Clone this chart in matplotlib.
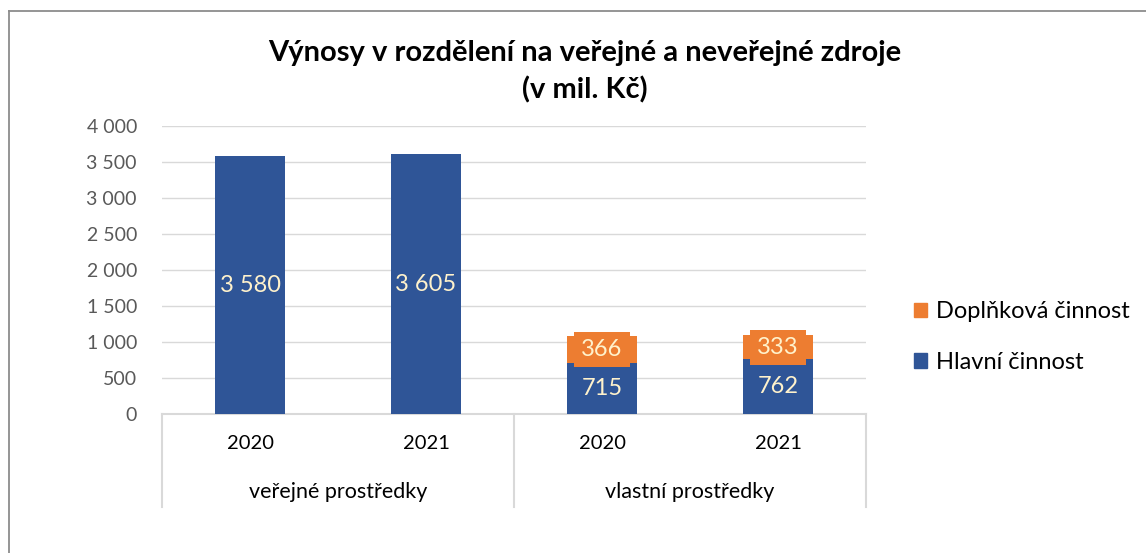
import matplotlib
matplotlib.use("Agg")
import matplotlib.pyplot as plt
from matplotlib.patches import Rectangle
from matplotlib.lines import Line2D

plt.rcParams['font.family'] = ['Lato', 'DejaVu Sans']

# ---- data ----
years = ["2020", "2021", "2020", "2021"]
groups = ["veřejné prostředky", "vlastní prostředky"]
hlavni = [3580, 3605, 715, 762]
doplnkova = [0, 0, 366, 333]
yticks = [0, 500, 1000, 1500, 2000, 2500, 3000, 3500, 4000]
ytick_labels = ["0", "500", "1 000", "1 500", "2 000", "2 500", "3 000", "3 500", "4 000"]
title = "Výnosy v rozdělení na veřejné a neveřejné zdroje\n(v mil. Kč)"

BLUE = "#2F5597"
ORANGE = "#ED7D31"
LABEL = "#FFF2CC"
GRID = "#D9D9D9"

W, H = 1146, 553
fig = plt.figure(figsize=(W / 100, H / 100), dpi=100)
fig.patch.set_facecolor("white")

# outer chart border (left and top visible)
fig.add_artist(Line2D([8.5 / W, 8.5 / W], [0, 1 - 10.5 / H], transform=fig.transFigure, color="#8C8C8C", lw=1.3))
fig.add_artist(Line2D([8.5 / W, 1], [1 - 10.5 / H, 1 - 10.5 / H], transform=fig.transFigure, color="#8C8C8C", lw=1.3))

ax = fig.add_axes([162 / W, (H - 414) / H, (866 - 162) / W, (414 - 126) / H])
x = list(range(len(years)))
bw = 0.4
ax.bar(x, hlavni, width=bw, color=BLUE, zorder=3, label="Hlavní činnost")
ax.bar(x, doplnkova, width=bw, bottom=hlavni, color=ORANGE, zorder=3, label="Doplňková činnost")

def fmt(v):
    return f"{v:,}".replace(",", " ")

for i in x:
    ax.text(i, hlavni[i] / 2, fmt(hlavni[i]), ha="center", va="center", color=LABEL, fontsize=17, zorder=5)
    if doplnkova[i] > 0:
        ax.text(i, hlavni[i] + doplnkova[i] / 2, fmt(doplnkova[i]), ha="center", va="center",
                color=LABEL, fontsize=17, zorder=5,
                bbox=dict(boxstyle="square,pad=0.3", facecolor=ORANGE, edgecolor="none"))

ax.set_xlim(-0.5, len(years) - 0.5)
ax.set_ylim(0, 4000)
ax.set_yticks(yticks)
ax.set_yticklabels(ytick_labels, fontsize=14, color="#595959")
ax.tick_params(axis="y", length=0, pad=18)
ax.grid(axis="y", color=GRID, lw=1, zorder=0)
for s in ["top", "right", "left"]:
    ax.spines[s].set_visible(False)
ax.spines["bottom"].set_color(GRID)
ax.spines["bottom"].set_linewidth(1.5)
ax.set_xticks(x)
ax.set_xticklabels(years, fontsize=14.5, color="black")
ax.tick_params(axis="x", length=0, pad=15)

tr = ax.get_xaxis_transform()
h_ax = 414 - 126
for g, gname in enumerate(groups):
    ax.text(g * 2 + 0.5, -(492 - 414) / h_ax, gname, transform=tr, ha="center", va="center",
            fontsize=15.5, color="black")
for xs in [-0.5, 1.5, 3.5]:
    ax.plot([xs, xs], [0, -(507 - 414) / h_ax], transform=tr, color=GRID, lw=1.5, clip_on=False)

fig.text(585 / W, 1 - 72 / H, title, ha="center", va="center", fontsize=21, fontweight="bold",
         linespacing=1.45, color="black")

handles = [Rectangle((0, 0), 1, 1, color=ORANGE), Rectangle((0, 0), 1, 1, color=BLUE)]
fig.legend(handles, ["Doplňková činnost", "Hlavní činnost"], loc="center left",
           bbox_to_anchor=(893 / W, 1 - 337 / H), frameon=False, fontsize=17,
           handlelength=0.55, handleheight=0.55, handletextpad=0.35, labelspacing=1.25)

fig.savefig("out.png", dpi=100)
